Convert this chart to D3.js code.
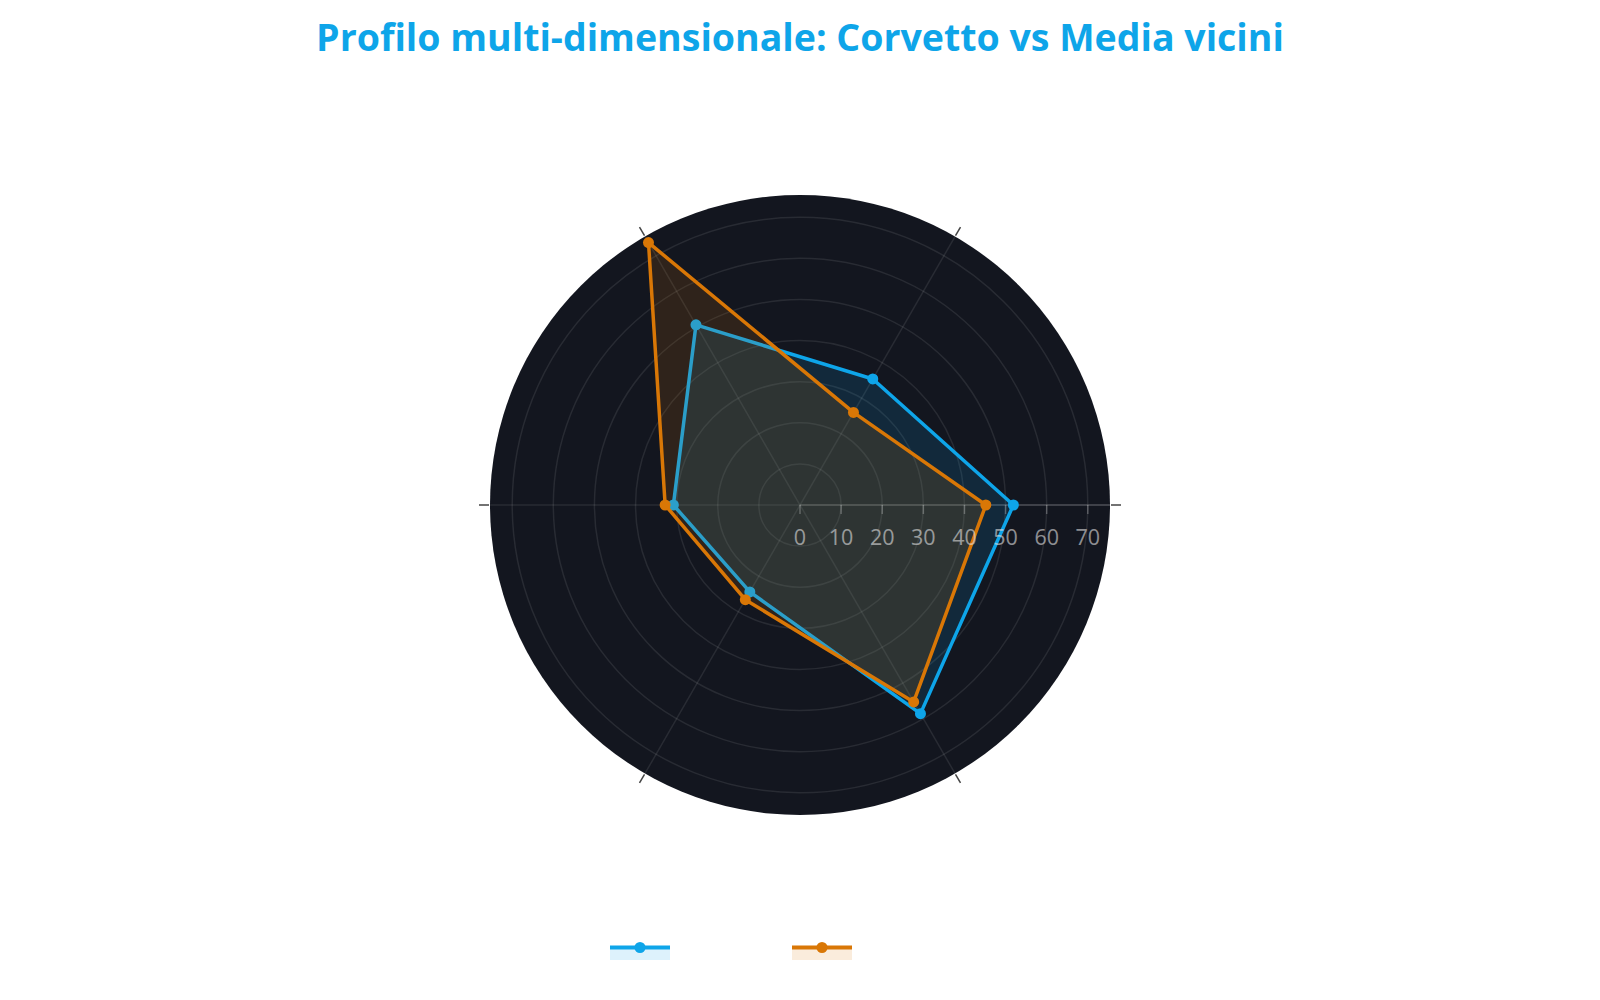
<!DOCTYPE html>
<html>
<head>
<meta charset="utf-8">
<script src="https://cdn.jsdelivr.net/npm/d3@7"></script>
<style>
  body { margin: 0; background: #fff; }
  svg { display: block; }
</style>
</head>
<body>
<div id="chart"></div>
<script>
// six dimensions of the profile (angular labels are not shown in the picture)
var dimensions = ["d1", "d2", "d3", "d4", "d5", "d6"];
var seriesNames = ["Corvetto", "Media vicini"];
var corvetto = [51.9, 35.4, 50.6, 30.8, 24.4, 58.6];
var mediaVicini = [45.2, 26.0, 73.7, 32.8, 26.6, 55.3];
var radialTicks = [0, 10, 20, 30, 40, 50, 60, 70];
var titleText = "Profilo multi-dimensionale: Corvetto vs Media vicini";

var width = 1600, height = 1000,
    cx = 800, cy = 505, R = 310;

var colors = ["#0ea5e9", "#d97706"];
var fills = ["rgba(14,165,233,0.14)", "rgba(217,119,6,0.14)"];

var svg = d3.select("#chart").append("svg")
    .attr("width", width)
    .attr("height", height);

svg.append("text")
    .attr("x", cx)
    .attr("y", 51)
    .attr("text-anchor", "middle")
    .style("font-family", "'Open Sans', sans-serif")
    .style("font-weight", "bold")
    .style("font-size", "37.5px")
    .style("fill", "#0ea5e9")
    .text(titleText);

var r = d3.scaleLinear().domain([0, 75.4]).range([0, R]);
// counterclockwise from 3 o'clock, 60 degrees apart
var angle = d3.scalePoint().domain(dimensions).range([0, 2 * Math.PI * 5 / 6]);

function px(d, v) { return cx + r(v) * Math.cos(angle(d)); }
function py(d, v) { return cy - r(v) * Math.sin(angle(d)); }

var g = svg.append("g");

// polar background
g.append("circle")
    .attr("cx", cx).attr("cy", cy).attr("r", R)
    .attr("fill", "#13161f");

// grid circles
g.selectAll(".grid-circle")
    .data(radialTicks.filter(function(t) { return t > 0; }))
    .enter().append("circle")
    .attr("class", "grid-circle")
    .attr("cx", cx).attr("cy", cy)
    .attr("r", function(t) { return r(t); })
    .attr("fill", "none")
    .attr("stroke", "rgba(255,255,255,0.09)")
    .attr("stroke-width", 1.5);

// spokes
g.selectAll(".spoke")
    .data(dimensions.slice(1))
    .enter().append("line")
    .attr("class", "spoke")
    .attr("x1", cx).attr("y1", cy)
    .attr("x2", function(d) { return cx + R * Math.cos(angle(d)); })
    .attr("y2", function(d) { return cy - R * Math.sin(angle(d)); })
    .attr("stroke", "rgba(255,255,255,0.09)")
    .attr("stroke-width", 1.5);

// angular ticks outside the disc
g.selectAll(".atick")
    .data(dimensions)
    .enter().append("line")
    .attr("class", "atick")
    .attr("x1", function(d) { return cx + (R + 1) * Math.cos(angle(d)); })
    .attr("y1", function(d) { return cy - (R + 1) * Math.sin(angle(d)); })
    .attr("x2", function(d) { return cx + (R + 11) * Math.cos(angle(d)); })
    .attr("y2", function(d) { return cy - (R + 11) * Math.sin(angle(d)); })
    .attr("stroke", "#444")
    .attr("stroke-width", 1.5);

// radial axis line along 0 degrees
g.append("line")
    .attr("x1", cx).attr("y1", cy)
    .attr("x2", cx + R).attr("y2", cy)
    .attr("stroke", "rgba(255,255,255,0.25)")
    .attr("stroke-width", 1.5);

// series: fill, line, markers (drawn trace by trace)
[corvetto, mediaVicini].forEach(function(vals, i) {
    var pts = dimensions.map(function(d, k) { return [px(d, vals[k]), py(d, vals[k])]; });
    var s = g.append("g").attr("class", "series");
    s.append("path")
        .attr("d", d3.line().curve(d3.curveLinearClosed)(pts))
        .attr("fill", fills[i])
        .attr("stroke", colors[i])
        .attr("stroke-width", 3.5)
        .attr("stroke-linejoin", "round");
    s.selectAll("circle")
        .data(pts)
        .enter().append("circle")
        .attr("cx", function(p) { return p[0]; })
        .attr("cy", function(p) { return p[1]; })
        .attr("r", 5.5)
        .attr("fill", colors[i]);
});

// radial ticks and labels
var rt = g.append("g").attr("class", "radial-ticks");
rt.selectAll("line")
    .data(radialTicks)
    .enter().append("line")
    .attr("x1", function(t) { return cx + r(t); })
    .attr("x2", function(t) { return cx + r(t); })
    .attr("y1", cy)
    .attr("y2", cy + 9)
    .attr("stroke", "rgba(255,255,255,0.25)")
    .attr("stroke-width", 1.5);
rt.selectAll("text")
    .data(radialTicks)
    .enter().append("text")
    .attr("x", function(t) { return cx + r(t); })
    .attr("y", cy + 40)
    .attr("text-anchor", "middle")
    .style("font-family", "'Open Sans', sans-serif")
    .style("font-size", "21.5px")
    .style("fill", "rgba(225,225,225,0.6)")
    .text(function(t) { return t; });

// legend (symbols only, names are not visible in the picture)
var legend = svg.append("g").attr("class", "legend");
seriesNames.forEach(function(name, i) {
    var x0 = 610 + i * 182, y0 = 947.5;
    var item = legend.append("g");
    item.append("rect")
        .attr("x", x0).attr("y", y0)
        .attr("width", 60).attr("height", 12.5)
        .attr("fill", fills[i]);
    item.append("line")
        .attr("x1", x0).attr("x2", x0 + 60)
        .attr("y1", y0).attr("y2", y0)
        .attr("stroke", colors[i])
        .attr("stroke-width", 4);
    item.append("circle")
        .attr("cx", x0 + 30).attr("cy", y0)
        .attr("r", 5.5)
        .attr("fill", colors[i]);
});
</script>
</body>
</html>
